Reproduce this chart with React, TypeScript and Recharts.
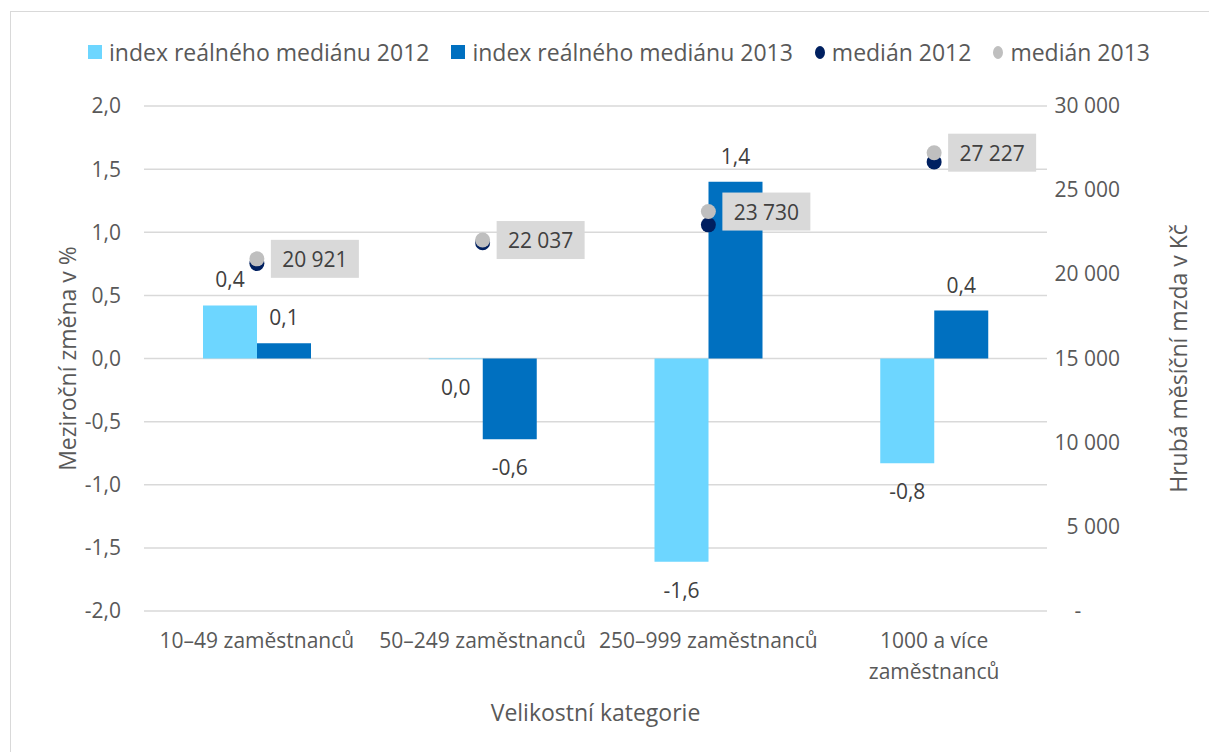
import {
  ComposedChart,
  Bar,
  Scatter,
  XAxis,
  YAxis,
  CartesianGrid,
  LabelList,
} from 'recharts';

const kategorie = [
  '10–49 zaměstnanců',
  '50–249 zaměstnanců',
  '250–999 zaměstnanců',
  '1000 a více zaměstnanců',
];
const index2012 = [0.42, -0.005, -1.61, -0.83];
const index2013 = [0.12, -0.64, 1.4, 0.38];
const median2012 = [20640, 21880, 22940, 26680];
const median2013 = [20921, 22037, 23730, 27227];

const levaOsaTicks = [-2, -1.5, -1, -0.5, 0, 0.5, 1, 1.5, 2];
const pravaOsaTicks = [0, 5000, 10000, 15000, 20000, 25000, 30000];

const data = kategorie.map((k, i) => ({
  kategorie: k,
  i2012: index2012[i],
  i2013: index2013[i],
  m2012: median2012[i],
  m2013: median2013[i],
}));

const FONT = '"Open Sans", Lato, sans-serif';
const SEDA_TEXT = '#595959';
const TMAVY_TEXT = '#404040';

const formatDes = (v: number): string => {
  if (Math.abs(v) < 0.05) return '0,0';
  return v.toFixed(1).replace('.', ',');
};

const formatTisice = (v: number): string =>
  String(Math.round(v)).replace(/\B(?=(\d{3})+(?!\d))/g, ' ');

const BarLabel = (props: any) => {
  const { x, y, width, height, value } = props;
  const cx = x + width / 2;
  const zaporny = value < 0;
  const ty = zaporny ? Math.max(y, y + height) + 28 : Math.min(y, y + height) - 26;
  return (
    <text
      x={cx}
      y={ty}
      textAnchor="middle"
      dominantBaseline="central"
      fill={TMAVY_TEXT}
      fontSize={21}
      fontFamily={FONT}
    >
      {formatDes(value)}
    </text>
  );
};

const MedianLabel = (props: any) => {
  const { x, y, width, height, value } = props;
  const cx = x + (width || 0) / 2;
  const cy = y + (height || 0) / 2;
  return (
    <g>
      <rect x={cx + 14} y={cy - 19} width={88} height={38} fill="#d9d9d9" />
      <text
        x={cx + 58}
        y={cy}
        textAnchor="middle"
        dominantBaseline="central"
        fill={TMAVY_TEXT}
        fontSize={21}
        fontFamily={FONT}
      >
        {formatTisice(value)}
      </text>
    </g>
  );
};

const tecka = (barva: string) => (props: any) => (
  <circle cx={props.cx} cy={props.cy} r={7.5} fill={barva} />
);

const XTick = ({ x, y, payload }: any) => {
  const text: string = payload.value;
  let radky = [text];
  if (text.length > 20) {
    const idx = text.lastIndexOf(' ');
    radky = [text.slice(0, idx), text.slice(idx + 1)];
  }
  return (
    <text
      x={x}
      y={y}
      textAnchor="middle"
      fill={SEDA_TEXT}
      fontSize={21}
      fontFamily={FONT}
    >
      {radky.map((r, i) => (
        <tspan key={i} x={x} dy={i === 0 ? 13 : 31}>
          {r}
        </tspan>
      ))}
    </text>
  );
};

const PravyTick = ({ x, y, payload }: any) =>
  payload.value === 0 ? (
    <text x={x + 9} y={y} dy={7} textAnchor="middle" fill={SEDA_TEXT} fontSize={21} fontFamily={FONT}>
      -
    </text>
  ) : (
    <text x={x + 51} y={y} dy={7} textAnchor="end" fill={SEDA_TEXT} fontSize={21} fontFamily={FONT}>
      {formatTisice(payload.value)}
    </text>
  );

const legenda = [
  { nazev: 'index reálného mediánu 2012', barva: '#6dd6ff', tvar: 'ctverec' },
  { nazev: 'index reálného mediánu 2013', barva: '#0070c0', tvar: 'ctverec' },
  { nazev: 'medián 2012', barva: '#002060', tvar: 'kruh' },
  { nazev: 'medián 2013', barva: '#bfbfbf', tvar: 'kruh' },
];

export default function App() {
  return (
    <div
      style={{
        position: 'absolute',
        left: 0,
        top: 0,
        width: 1209,
        height: 752,
        background: '#fff',
        overflow: 'hidden',
      }}
    >
      {/* rámeček */}
      <div
        style={{
          position: 'absolute',
          left: 10,
          top: 11,
          width: 1300,
          height: 900,
          border: '1.5px solid #d9d9d9',
        }}
      />

      {/* legenda */}
      <div
        style={{
          position: 'absolute',
          left: 40,
          width: 1158,
          top: 34,
          display: 'flex',
          justifyContent: 'center',
          gap: 22,
          fontFamily: FONT,
          fontSize: 23,
          color: SEDA_TEXT,
          lineHeight: '36px',
        }}
      >
        {legenda.map(l => (
          <div key={l.nazev} style={{ display: 'flex', alignItems: 'center', gap: 7 }}>
            <span
              style={{
                width: l.tvar === 'kruh' ? 10 : 14,
                height: l.tvar === 'kruh' ? 13 : 14,
                borderRadius: l.tvar === 'kruh' ? '50%' : 0,
                background: l.barva,
                display: 'inline-block',
              }}
            />
            <span>{l.nazev}</span>
          </div>
        ))}
      </div>

      <ComposedChart
        width={1209}
        height={752}
        data={data}
        margin={{ top: 106, right: 22, bottom: 41, left: 64 }}
        barGap={0}
        style={{ position: 'absolute', left: 0, top: 0 }}
      >
        <CartesianGrid yAxisId="left" vertical={false} stroke="#d9d9d9" strokeWidth={1.5} />
        <XAxis
          dataKey="kategorie"
          height={100}
          axisLine={false}
          tickLine={false}
          tickSize={0}
          tickMargin={24}
          interval={0}
          tick={<XTick />}
          label={({ viewBox }: any) => (
            <text
              x={viewBox.x + viewBox.width / 2}
              y={viewBox.y + 101}
              textAnchor="middle"
              dominantBaseline="central"
              fill={SEDA_TEXT}
              fontSize={23}
              fontFamily={FONT}
            >
              Velikostní kategorie
            </text>
          )}
        />
        <YAxis
          yAxisId="left"
          orientation="left"
          width={80}
          domain={[-2, 2]}
          ticks={levaOsaTicks}
          axisLine={false}
          tickLine={false}
          tickSize={0}
          tickMargin={23}
          tickFormatter={(v: number) => v.toFixed(1).replace('.', ',')}
          tick={{ fill: SEDA_TEXT, fontSize: 21, fontFamily: FONT }}
          label={({ viewBox }: any) => (
            <text
              x={viewBox.x + 3}
              y={viewBox.y + viewBox.height / 2}
              transform={`rotate(-90 ${viewBox.x + 3} ${viewBox.y + viewBox.height / 2})`}
              textAnchor="middle"
              dominantBaseline="central"
              fill={SEDA_TEXT}
              fontSize={23}
              fontFamily={FONT}
            >
              Meziroční změna v %
            </text>
          )}
        />
        <YAxis
          yAxisId="right"
          orientation="right"
          width={140}
          domain={[0, 30000]}
          ticks={pravaOsaTicks}
          axisLine={false}
          tickLine={false}
          tickSize={0}
          tickMargin={22}
          tick={<PravyTick />}
          label={({ viewBox }: any) => (
            <text
              x={viewBox.x + 131}
              y={viewBox.y + viewBox.height / 2}
              transform={`rotate(-90 ${viewBox.x + 131} ${viewBox.y + viewBox.height / 2})`}
              textAnchor="middle"
              dominantBaseline="central"
              fill={SEDA_TEXT}
              fontSize={23}
              fontFamily={FONT}
            >
              Hrubá měsíční mzda v Kč
            </text>
          )}
        />
        <Bar yAxisId="left" dataKey="i2012" fill="#6dd6ff" barSize={54} isAnimationActive={false}>
          <LabelList dataKey="i2012" content={<BarLabel />} />
        </Bar>
        <Bar yAxisId="left" dataKey="i2013" fill="#0070c0" barSize={54} isAnimationActive={false}>
          <LabelList dataKey="i2013" content={<BarLabel />} />
        </Bar>
        <Scatter
          yAxisId="right"
          dataKey="m2012"
          fill="#002060"
          shape={tecka('#002060')}
          isAnimationActive={false}
        />
        <Scatter
          yAxisId="right"
          dataKey="m2013"
          fill="#bfbfbf"
          shape={tecka('#bfbfbf')}
          isAnimationActive={false}
        >
          <LabelList dataKey="m2013" content={<MedianLabel />} />
        </Scatter>
      </ComposedChart>
    </div>
  );
}
